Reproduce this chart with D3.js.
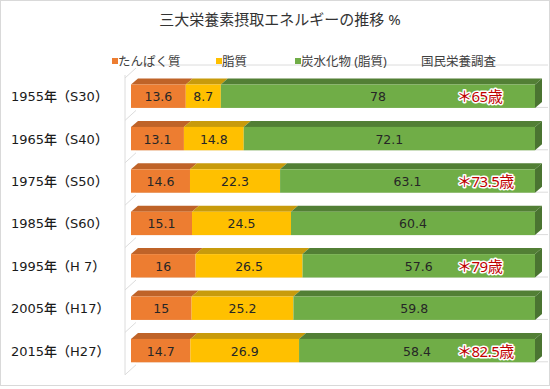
<!DOCTYPE html>
<html>
<head>
<meta charset="utf-8">
<script src="https://cdn.jsdelivr.net/npm/d3@7"></script>
<style>
  body { margin: 0; background: #fff; }
  text { font-family: "Noto Sans", "Noto Sans CJK JP", sans-serif; }
  text.num { font-family: "DejaVu Sans", "Noto Sans CJK JP", sans-serif; }
</style>
</head>
<body>
<svg id="chart" width="550" height="389"></svg>
<script>
// data
const years = ["1955年（S30）", "1965年（S40）", "1975年（S50）", "1985年（S60）",
               "1995年（H 7）", "2005年（H17）", "2015年（H27）"];
const protein = [13.6, 13.1, 14.6, 15.1, 16, 15, 14.7];
const fat = [8.7, 14.8, 22.3, 24.5, 26.5, 25.2, 26.9];
const carbs = [78, 72.1, 63.1, 60.4, 57.6, 59.8, 58.4];
const lifespan = ["＊65歳", "", "＊73.5歳", "", "＊79歳", "", "＊82.5歳"];
const seriesNames = ["たんぱく質", "脂質", "炭水化物 (脂質)", "国民栄養調査"];

const colors = ["#ed7d31", "#ffc000", "#70ad47"];
const topColors = ["#bf6328", "#c89b0c", "#527f35"];
const sideColor = "#4a7431";

let rows = years.map((y, i) => ({ year: y, p: protein[i], f: fat[i], c: carbs[i], age: lifespan[i] }));

let svg = d3.select("#chart");

// chart border
svg.append("rect")
    .attr("x", 0.5).attr("y", 0.5)
    .attr("width", 549).attr("height", 385)
    .attr("fill", "#fff").attr("stroke", "#d9d9d9");

let x = d3.scaleLinear().domain([0, 1]).range([131, 535]),
    y = d3.scaleBand().domain(years).range([75, 371.8])
        .paddingInner(0.448).paddingOuter(0.224);

const dx = 7, dy = 6;      // bar depth
const wx = 11, wy = 10;    // wall depth

// walls
let wall = svg.append("g").attr("stroke", "#dcdcdc").attr("fill", "none");
let bounds = d3.range(years.length + 1).map(i => y.range()[0] + i * y.step());
wall.append("line")
    .attr("x1", x(0) - 6).attr("x2", x(0) - 6)
    .attr("y1", bounds[0]).attr("y2", bounds[bounds.length - 1] + 3);
wall.selectAll("line.diag").data(bounds).enter().append("line")
    .attr("class", "diag")
    .attr("x1", x(0) - 6).attr("y1", d => d + 3)
    .attr("x2", x(0) - 6 + wx).attr("y2", d => d + 3 - wy);
wall.selectAll("line.back").data(bounds).enter().append("line")
    .attr("class", "back")
    .attr("x1", x(0) - 6 + wx).attr("y1", d => d - 10)
    .attr("x2", 548).attr("y2", d => d - 10);

let stack = d3.stack().keys(["p", "f", "c"]).offset(d3.stackOffsetExpand);
let series = stack(rows);

let bars = svg.append("g");
series.forEach((s, k) => {
    let g = bars.append("g");
    s.forEach((d, i) => {
        let x0 = x(d[0]), x1 = x(d[1]),
            y0 = y(d.data.year), h = y.bandwidth();
        g.append("path")
            .attr("d", `M${x0},${y0}L${x0 + dx},${y0 - dy}L${x1 + dx},${y0 - dy}L${x1},${y0}Z`)
            .attr("fill", topColors[k]);
        if (k === series.length - 1) {
            g.append("path")
                .attr("d", `M${x1},${y0}L${x1 + dx},${y0 - dy}L${x1 + dx},${y0 + h - dy}L${x1},${y0 + h}Z`)
                .attr("fill", sideColor);
        }
        g.append("rect")
            .attr("x", x0).attr("y", y0)
            .attr("width", x1 - x0).attr("height", h)
            .attr("fill", colors[k]);
        g.append("text")
            .attr("class", "num")
            .attr("x", (x0 + x1) / 2)
            .attr("y", y0 + h / 2 + 5)
            .attr("text-anchor", "middle")
            .attr("font-size", 12.5)
            .attr("fill", "#262626")
            .text(d.data[s.key]);
    });
});

// lifespan notes
svg.append("g").selectAll("text")
    .data(rows.filter(d => d.age)).enter().append("text")
    .attr("x", 457)
    .attr("y", d => y(d.year) + y.bandwidth() / 2 + 6)
    .attr("font-size", 15)
    .attr("fill", "#c00000")
    .attr("stroke", "#fff")
    .attr("stroke-width", 3)
    .attr("paint-order", "stroke")
    .attr("stroke-linejoin", "round")
    .attr("letter-spacing", -0.5)
    .text(d => d.age);

// category labels
svg.append("g").selectAll("text")
    .data(years).enter().append("text")
    .attr("class", "num")
    .attr("x", 11)
    .attr("y", d => y(d) + y.bandwidth() / 2 + 5)
    .attr("font-size", 13)
    .attr("font-weight", 500)
    .attr("fill", "#1a1a1a")
    .text(d => d);

// title
svg.append("text")
    .attr("x", 280).attr("y", 25)
    .attr("text-anchor", "middle")
    .attr("font-size", 15)
    .attr("fill", "#333")
    .text("三大栄養素摂取エネルギーの推移 %");

// legend
const legendX = [112, 216, 295, 421];
let legend = svg.append("g");
seriesNames.forEach((n, i) => {
    if (i < colors.length) {
        legend.append("rect")
            .attr("x", legendX[i]).attr("y", 58)
            .attr("width", 6).attr("height", 6)
            .attr("fill", colors[i]);
    }
    legend.append("text")
        .attr("x", i < colors.length ? legendX[i] + 6 : legendX[i])
        .attr("y", 66)
        .attr("font-size", 12.5)
        .attr("fill", "#404040")
        .text(n);
});
</script>
</body>
</html>
